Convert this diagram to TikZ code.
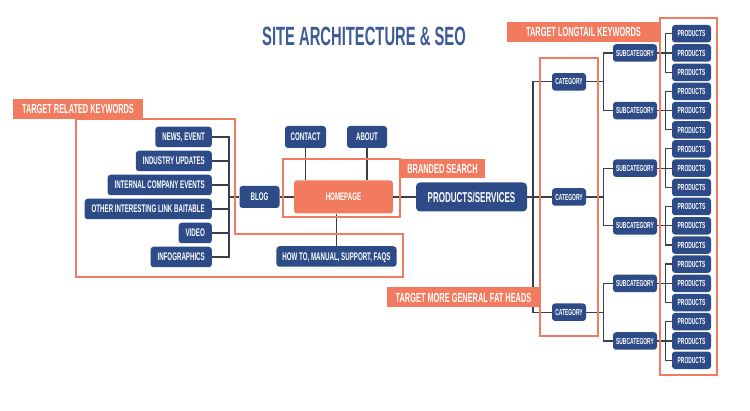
\documentclass[tikz,border=0pt]{standalone}
\usepackage{fontspec}
\newfontfamily\condfont{Liberation Sans}[FakeStretch=0.56]
\definecolor{navy}{HTML}{2D4B87}
\definecolor{salmon}{HTML}{F27B5F}
\definecolor{wire}{HTML}{3A3F4A}
\definecolor{titleblue}{HTML}{3D5B97}

\begin{document}
\begin{tikzpicture}[x=1pt, y=-1pt,
  page/.style={fill=navy, text=white, rounded corners=3pt, inner xsep=7pt, inner ysep=0pt,
    font=\condfont\bfseries\fontsize{11}{13}\selectfont, text height=7.9pt, text depth=0pt, minimum height=20.5pt},
  small/.style={page, inner xsep=0pt, minimum height=17.5pt,
    font=\condfont\bfseries\fontsize{8.8}{10}\selectfont, text height=6.3pt},
  tag/.style={fill=salmon, text=white, inner sep=0pt, minimum height=20pt,
    font=\condfont\bfseries\fontsize{13.2}{15}\selectfont, text height=9.5pt, text depth=0pt},
  frame/.style={draw=salmon, line width=1.3pt},
  link/.style={draw=wire, line width=1.2pt}]
\useasboundingbox (0,0) rectangle (750,411);

\node[text=titleblue, font=\condfont\bfseries\fontsize{26.4}{30}\selectfont] (title) at (364,36) {SITE ARCHITECTURE \& SEO};

\node[page, anchor=east] (news) at (212,137) {NEWS, EVENT};
\node[page, anchor=east] (industry) at (212,161) {INDUSTRY UPDATES};
\node[page, anchor=east] (internal) at (212,185) {INTERNAL COMPANY EVENTS};
\node[page, anchor=east] (linkbait) at (212,209) {OTHER INTERESTING LINK BAITABLE};
\node[page, anchor=east] (video) at (212,233) {VIDEO};
\node[page, anchor=east] (infographics) at (212,257) {INFOGRAPHICS};

\node[page, inner xsep=0pt, minimum width=40pt, minimum height=22pt] (blog) at (259.5,197) {BLOG};
\node[page, inner xsep=0pt, minimum width=41pt, minimum height=22pt] (contact) at (305.5,137) {CONTACT};
\node[page, inner xsep=0pt, minimum width=40pt, minimum height=22pt] (about) at (367,137) {ABOUT};
\node[page, fill=salmon, minimum width=99pt, minimum height=33pt] (home) at (343.5,197) {HOMEPAGE};
\node[page, inner xsep=6pt] (howto) at (336.5,256.5) {HOW TO, MANUAL, SUPPORT, FAQS};
\node[page, rounded corners=4pt, inner xsep=0pt, minimum width=111pt, minimum height=29pt,
  font=\condfont\bfseries\fontsize{14.3}{16}\selectfont, text height=10.2pt] (prodserv) at (471.5,197) {PRODUCTS/SERVICES};

\foreach \k in {1,2,3}
  \node[small, minimum width=34pt] (cat\k) at (569,{81.8+115.2*(\k-1)}) {CATEGORY};
\foreach \s in {1,...,6} {
  \node[small, minimum width=44pt] (sub\s) at (635,{53+57.6*(\s-1)}) {SUBCATEGORY};
  \foreach \p in {1,2,3}
    \node[small, minimum width=39pt] (prod\s-\p) at (691.5,{53+57.6*(\s-1)+19.3*(\p-2)}) {PRODUCTS};
}

\coordinate (lbus) at (229,197);
\foreach \n in {news,industry,internal,linkbait,video,infographics}
  \draw[link] (\n.east) -| (lbus);
\draw[link] (lbus) -- (blog);
\draw[link] (blog) -- (home);
\draw[link] (contact) -- (contact |- home.north);
\draw[link] (about) -- (about |- home.north);
\draw[link] (howto) -- (howto |- home.south);
\draw[link] (home) -- (prodserv);

\coordinate (rbus) at (533,197);
\draw[link] (prodserv) -- (cat2);
\draw[link] (rbus) |- (cat1);
\draw[link] (rbus) |- (cat3);
\foreach \k in {1,2,3} {
  \pgfmathtruncatemacro\upper{2*\k-1}
  \pgfmathtruncatemacro\lower{2*\k}
  \draw[link] (cat\k.east) -- ++(17,0) coordinate (cbus\k);
  \draw[link] (cbus\k) |- (sub\upper);
  \draw[link] (cbus\k) |- (sub\lower);
}
\foreach \s in {1,...,6} {
  \draw[link] (sub\s.east) -- ++(8,0) coordinate (pbus\s);
  \foreach \p in {1,2,3}
    \draw[link] (pbus\s) |- (prod\s-\p);
}

\draw[frame] (76,119) -- (235,119) -- (235,234) -- (403,234) -- (403,277) -- (76,277) -- cycle;
\draw[frame] (283,159) rectangle (400,217);
\draw[frame] (540,58) rectangle (598,336);
\draw[frame] (660,18) rectangle (717,375);

\node[tag, minimum width=130pt] (relatedtag) at (78,109) {TARGET RELATED KEYWORDS};
\node[tag, minimum width=85pt, minimum height=19pt] (brandtag) at (442.5,168.5) {BRANDED SEARCH};
\node[tag, minimum width=153pt] (fattag) at (463.5,297.5) {TARGET MORE GENERAL FAT HEADS};
\node[tag, minimum width=153pt] (longtag) at (583.5,32) {TARGET LONGTAIL KEYWORDS};
\end{tikzpicture}
\end{document}
